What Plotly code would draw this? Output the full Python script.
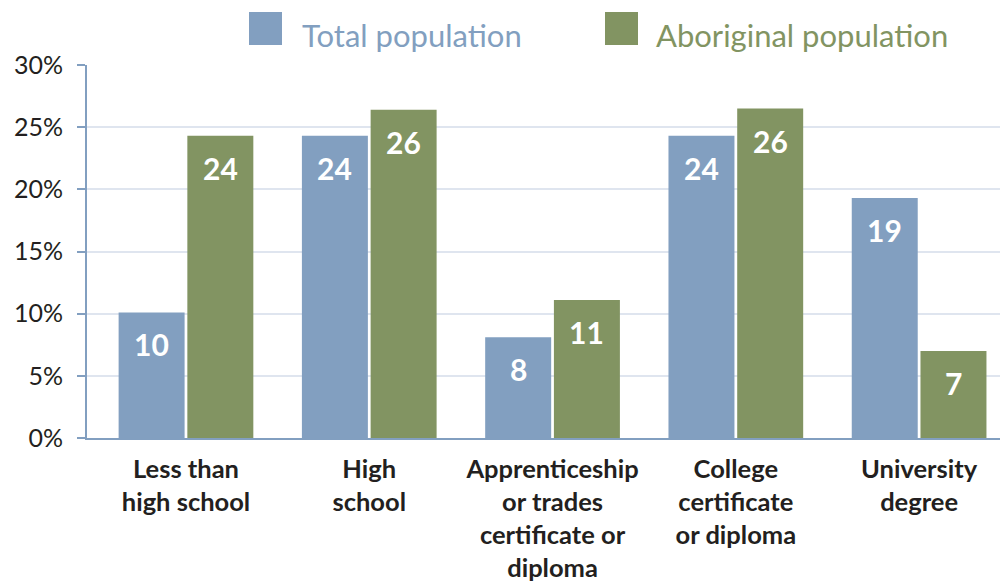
import plotly.graph_objects as go

categories = ["Less than<br>high school", "High<br>school", "Apprenticeship<br>or trades<br>certificate or<br>diploma",
              "College<br>certificate<br>or diploma", "University<br>degree"]
total_pop = [10.1, 24.3, 8.1, 24.3, 19.3]
aboriginal_pop = [24.3, 26.4, 11.1, 26.5, 7.0]
total_labels = ["10", "24", "8", "24", "19"]
aboriginal_labels = ["24", "26", "11", "26", "7"]
series_names = ["Total population", "Aboriginal population"]
y_ticks = [0, 5, 10, 15, 20, 25, 30]

BLUE = "#829fc0"
GREEN = "#829462"
FONT = "Lato"

# page has an 8px body margin; figure is sized to fill the rest of the window
OFF = 8
W, H = 1008 - OFF, 586 - OFF
L, R, T, B = 87 - OFF, 0, 65 - OFF, 148
pw, ph = W - L - R, H - T - B

xs = list(range(len(categories)))
fig = go.Figure()
fig.add_trace(go.Bar(x=xs, y=total_pop, name=series_names[0], marker=dict(color=BLUE, line=dict(width=0)),
                     showlegend=False))
fig.add_trace(go.Bar(x=xs, y=aboriginal_pop, name=series_names[1], marker=dict(color=GREEN, line=dict(width=0)),
                     showlegend=False))

bargap = 0.25
off = (1 - bargap) / 4
annotations = []
for i in xs:
    for val, lab, sgn in ((total_pop[i], total_labels[i], -1), (aboriginal_pop[i], aboriginal_labels[i], 1)):
        annotations.append(dict(x=i + sgn * off, y=val, xref="x", yref="y", text=lab, showarrow=False,
                                yanchor="middle", yshift=-32,
                                font=dict(family=FONT, size=30, color="white", weight="bold")))

fig.update_layout(
    width=W, height=H,
    margin=dict(l=L, r=R, t=T, b=B, autoexpand=False),
    paper_bgcolor="white", plot_bgcolor="white",
    barmode="group", bargap=bargap, bargroupgap=0.04,
    annotations=annotations,
    xaxis=dict(range=[-0.54, 4.485], tickmode="array", tickvals=xs, ticktext=categories,
               showgrid=False, showline=True, linecolor=BLUE, linewidth=2, ticks="",
               ticklabelstandoff=7, automargin=False,
               tickfont=dict(family=FONT, size=25.5, color="#231f20", weight="bold")),
    yaxis=dict(range=[0, 30], tickmode="array", tickvals=y_ticks, ticktext=[f"{v}%" for v in y_ticks],
               showgrid=True, gridcolor="#dfe5ef", gridwidth=2, showline=True, linecolor=BLUE, linewidth=2,
               ticks="outside", ticklen=8, tickcolor=BLUE, tickwidth=2, zeroline=False,
               ticklabelstandoff=9, automargin=False,
               tickfont=dict(family=FONT, size=25, color="#231f20")),
    font=dict(family=FONT),
)

def px_to_paper(px, py):
    # px, py are positions in the 1008x586 window
    px -= OFF
    py -= OFF
    return (px - L) / pw, (H - B - py) / ph

for name, col, sq_x, txt_x in [(series_names[0], BLUE, 249, 300), (series_names[1], GREEN, 605, 654)]:
    x0, y0 = px_to_paper(sq_x, 45)
    x1, y1 = px_to_paper(sq_x + 33, 12)
    fig.add_shape(type="rect", xref="paper", yref="paper", x0=x0, x1=x1, y0=y0, y1=y1,
                  fillcolor=col, line=dict(width=0))
    tx, ty = px_to_paper(txt_x, 35)
    fig.add_annotation(x=tx, y=ty, xref="paper", yref="paper", text=name, showarrow=False,
                       xanchor="left", yanchor="middle",
                       font=dict(family=FONT, size=31, color=col))

fig.write_html("out.html")
